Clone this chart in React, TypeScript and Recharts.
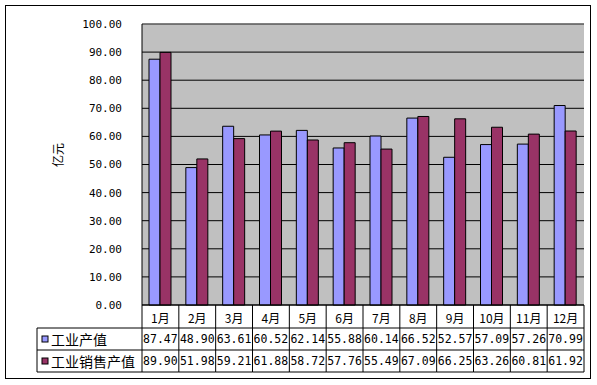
import React from "react";
import { BarChart, Bar, XAxis, YAxis, CartesianGrid, ReferenceLine } from "recharts";

const MONTHS = ["1月", "2月", "3月", "4月", "5月", "6月", "7月", "8月", "9月", "10月", "11月", "12月"];
const OUTPUT = [87.47, 48.9, 63.61, 60.52, 62.14, 55.88, 60.14, 66.52, 52.57, 57.09, 57.26, 70.99];
const SALES = [89.9, 51.98, 59.21, 61.88, 58.72, 57.76, 55.49, 67.09, 66.25, 63.26, 60.81, 61.92];
const SERIES = ["工业产值", "工业销售产值"];
const COLORS = ["#9999FF", "#993366"];
const Y_TICKS = [0, 10, 20, 30, 40, 50, 60, 70, 80, 90, 100];
const Y_UNIT = "亿元";

const data = MONTHS.map((m, i) => ({ month: m, output: OUTPUT[i], sales: SALES[i] }));

const W = 597;
const H = 385;
const LEFT = 142;
const RIGHT = 13;
const BAND = (W - LEFT - RIGHT) / MONTHS.length;
const TABLE_LEFT = 37;
const MONO = "'DejaVu Sans Mono', monospace";
const CJK = "'Noto Sans CJK SC', sans-serif";

const TableTick = (props: any) => {
  const { x, y, index, payload } = props;
  const l = x - BAND / 2;
  const r = x + BAND / 2;
  const rows = [y + 23, y + 45, y + 67];
  return (
    <g>
      {index === 0 && (
        <g>
          <line x1={l} y1={y} x2={l} y2={rows[2]} stroke="#000" />
          <line x1={TABLE_LEFT} y1={rows[0]} x2={TABLE_LEFT} y2={rows[2]} stroke="#000" />
          {rows.map((ry, k) => (
            <line key={k} x1={TABLE_LEFT} y1={ry} x2={l} y2={ry} stroke="#000" />
          ))}
          {SERIES.map((s, k) => (
            <g key={s}>
              <rect x={42} y={rows[k] + 8} width={6} height={6} fill={COLORS[k]} stroke="#000" />
              <text x={51} y={rows[k] + 11} dominantBaseline="central" fontFamily={CJK} fontSize={14} fill="#000">
                {s}
              </text>
            </g>
          ))}
        </g>
      )}
      <line x1={r} y1={y} x2={r} y2={rows[2]} stroke="#000" />
      {rows.map((ry, k) => (
        <line key={k} x1={l} y1={ry} x2={r} y2={ry} stroke="#000" />
      ))}
      <text x={x} y={y + 12} textAnchor="middle" dominantBaseline="central" fontFamily={CJK} fontSize={12} fill="#000">
        {payload.value}
      </text>
      <text x={x} y={rows[0] + 11} textAnchor="middle" dominantBaseline="central" fontFamily={MONO} fontSize={11.5} fill="#000">
        {OUTPUT[index].toFixed(2)}
      </text>
      <text x={x} y={rows[1] + 11} textAnchor="middle" dominantBaseline="central" fontFamily={MONO} fontSize={11.5} fill="#000">
        {SALES[index].toFixed(2)}
      </text>
    </g>
  );
};

export default function App() {
  return (
    <div style={{ position: "absolute", left: 0, top: 0, width: W, height: H, background: "#fff" }}>
      <div
        style={{
          position: "absolute",
          left: 5,
          top: 5,
          width: 584,
          height: 372,
          border: "1px solid #000",
        }}
      />
      <div style={{ position: "absolute", left: 0, top: 0 }}>
        <BarChart
          width={W}
          height={H}
          data={data}
          margin={{ top: 24, right: RIGHT, bottom: 0, left: 0 }}
          barGap={0}
        >
          <CartesianGrid fill="#C0C0C0" stroke="#000" vertical={false} />
          <XAxis
            dataKey="month"
            height={80}
            interval={0}
            tickLine={false}
            tickSize={0}
            tickMargin={0}
            axisLine={{ stroke: "#000" }}
            tick={<TableTick />}
          />
          <YAxis
            width={LEFT}
            domain={[0, 100]}
            ticks={Y_TICKS}
            interval={0}
            tickLine={false}
            tickSize={0}
            tickMargin={20}
            axisLine={{ stroke: "#000" }}
            tickFormatter={(v: number) => v.toFixed(2)}
            tick={{ fill: "#000", fontSize: 11, fontFamily: MONO }}
          />
          <YAxis yAxisId="r" orientation="right" width={0} tick={false} tickLine={false} axisLine={{ stroke: "#808080" }} />
          <ReferenceLine y={100} stroke="#808080" />
          <Bar dataKey="output" name={SERIES[0]} fill={COLORS[0]} stroke="#000" strokeWidth={1} barSize={11} isAnimationActive={false} />
          <Bar dataKey="sales" name={SERIES[1]} fill={COLORS[1]} stroke="#000" strokeWidth={1} barSize={11} isAnimationActive={false} />
        </BarChart>
      </div>
      <div
        style={{
          position: "absolute",
          left: 58,
          top: 155,
          transform: "translate(-50%, -50%) rotate(-90deg)",
          fontFamily: CJK,
          fontSize: 12,
          color: "#000",
          whiteSpace: "nowrap",
          lineHeight: 1,
        }}
      >
        {Y_UNIT}
      </div>
    </div>
  );
}
